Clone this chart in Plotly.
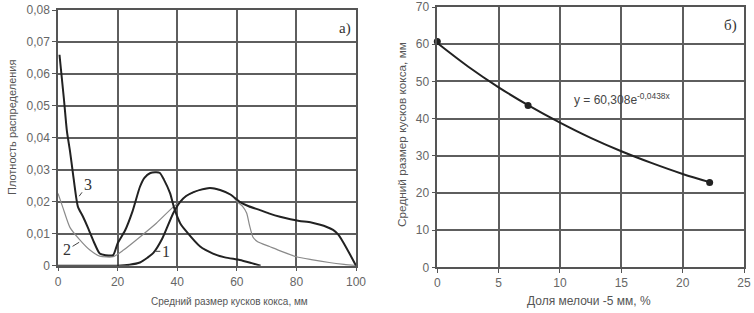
import plotly.graph_objects as go

# ---- Data: panel a) distribution density curves ----
c1_x = [0, 20, 24, 27.5, 30, 32, 35, 38.7, 41, 43, 45.5, 48, 51, 54.4, 58, 61, 64, 67.8, 71, 74.5, 78, 81, 85, 88, 90, 92.3, 94, 95.8, 98, 100]
c1_y = [0, 0, 0.0003, 0.001, 0.0025, 0.004, 0.0085, 0.0165, 0.02, 0.0218, 0.023, 0.0238, 0.0243, 0.0237, 0.0222, 0.02, 0.0186, 0.0174, 0.0163, 0.0153, 0.0145, 0.014, 0.0135, 0.0128, 0.0122, 0.0112, 0.0098, 0.0072, 0.0035, 0]

c2_x = [0, 1.7, 4, 7.4, 10.7, 14, 18.5, 22, 27.5, 33, 38.7, 41, 43, 45.5, 48, 51, 54.4, 58, 60.4, 62, 63.3, 64.3, 65.4, 67, 71, 75, 80, 85, 91, 96, 100]
c2_y = [0.0226, 0.018, 0.012, 0.008, 0.0049, 0.003, 0.0028, 0.0049, 0.009, 0.0133, 0.0184, 0.02, 0.0218, 0.023, 0.0238, 0.0243, 0.0237, 0.0222, 0.0198, 0.0185, 0.0165, 0.0125, 0.009, 0.0075, 0.006, 0.0045, 0.0028, 0.0019, 0.001, 0.0004, 0]

c3_x = [0.5, 2, 3, 4, 5, 6, 6.7, 8.4, 10, 12, 14, 16, 18.5, 20, 22.5, 25, 27.5, 29, 31, 33, 34.2, 35.5, 37.6, 39, 41, 43, 47.7, 52, 56, 61, 65, 68]
c3_y = [0.066, 0.052, 0.042, 0.036, 0.029, 0.022, 0.0184, 0.0153, 0.012, 0.0075, 0.0038, 0.0033, 0.0033, 0.007, 0.011, 0.017, 0.0247, 0.0275, 0.029, 0.0292, 0.029, 0.027, 0.0227, 0.018, 0.0133, 0.0108, 0.006, 0.0038, 0.0026, 0.0018, 0.0008, 0]

# curve number labels: the curve point the leader touches
curve_labels = ["1", "2", "3"]
curve_label_x = [32.5, 7.4, 6.9]
curve_label_y = [0.0045, 0.0075, 0.0215]

# ---- Data: panel б) mean lump size vs fines share ----
fines_pct = [0, 7.4, 22.2]
mean_size = [60.7, 43.5, 22.8]
trend_x = [0, 2.5, 5, 7.5, 10, 12.5, 15, 17.5, 20, 22.2]
trend_y = [60.3, 54.0, 48.4, 43.4, 38.9, 34.8, 31.2, 28.0, 25.1, 22.9]

a_xticks = [0, 20, 40, 60, 80, 100]
a_yticks = [0, 0.01, 0.02, 0.03, 0.04, 0.05, 0.06, 0.07, 0.08]
a_yticktext = ["0", "0,01", "0,02", "0,03", "0,04", "0,05", "0,06", "0,07", "0,08"]
b_xticks = [0, 5, 10, 15, 20, 25]
b_yticks = [0, 10, 20, 30, 40, 50, 60, 70]

W, H = 754, 313
DARK = "#222222"
LIGHT = "#8a8a8a"
GRID = "#5e5e5e"
TICKC = "#666666"
TITLEC = "#555555"
FONT = "Liberation Sans, Arial, sans-serif"
SERIF = "Liberation Serif, Times New Roman, serif"

fig = go.Figure()

fig.add_trace(go.Scatter(x=c2_x, y=c2_y, mode="lines", line=dict(color=LIGHT, width=1.2, shape="spline", smoothing=0.6),
                         xaxis="x", yaxis="y", showlegend=False, cliponaxis=False))
fig.add_trace(go.Scatter(x=c1_x, y=c1_y, mode="lines", line=dict(color=DARK, width=2, shape="spline", smoothing=0.6),
                         xaxis="x", yaxis="y", showlegend=False, cliponaxis=False))
fig.add_trace(go.Scatter(x=c3_x, y=c3_y, mode="lines", line=dict(color=DARK, width=2, shape="spline", smoothing=0.6),
                         xaxis="x", yaxis="y", showlegend=False, cliponaxis=False))

fig.add_trace(go.Scatter(x=trend_x, y=trend_y, mode="lines", line=dict(color=DARK, width=2, shape="spline"),
                         xaxis="x2", yaxis="y2", showlegend=False))
fig.add_trace(go.Scatter(x=fines_pct, y=mean_size, mode="markers", marker=dict(color=DARK, size=7),
                         xaxis="x2", yaxis="y2", showlegend=False, cliponaxis=False))

common_axis = dict(showline=True, linecolor="#555555", linewidth=1.5, mirror=True,
                   showgrid=True, gridcolor=GRID, gridwidth=1.6, zeroline=False,
                   ticks="outside", ticklen=4, tickcolor="#555555", automargin=False,
                   tickfont=dict(family=FONT, size=12, color=TICKC))

fig.update_layout(
    width=W, height=H,
    margin=dict(l=0, r=0, t=0, b=0),
    paper_bgcolor="white", plot_bgcolor="white",
    separators=", ",
    xaxis=dict(common_axis, domain=[58/W, 356/W], range=[0, 100], tickvals=a_xticks, anchor="y"),
    yaxis=dict(common_axis, domain=[1-265.7/H, 1-10/H], range=[0, 0.08], tickvals=a_yticks, ticktext=a_yticktext, anchor="x"),
    xaxis2=dict(common_axis, domain=[437.3/W, 744/W], range=[0, 25], tickvals=b_xticks, anchor="y2"),
    yaxis2=dict(common_axis, domain=[1-267.3/H, 1-7/H], range=[0, 70], tickvals=b_yticks, anchor="x2"),
)

# axis titles (placed as in the reference)
titles = [
    ("Средний размер кусков кокса, мм", 229/W, 1-301/H, 0, 10),
    ("Доля мелочи -5 мм, %", 589/W, 1-301/H, 0, 12),
    ("Плотность распределения", 12/W, 1-128/H, -90, 11),
    ("Средний размер кусков кокса, мм", 402/W, 1-135/H, -90, 11.8),
]
for txt, px, py, ang, sz in titles:
    fig.add_annotation(x=px, y=py, xref="paper", yref="paper", text=txt, showarrow=False, textangle=ang,
                       xanchor="center", yanchor="middle", font=dict(family=FONT, size=sz, color=TITLEC))

# curve number labels with short leader lines (text offset in px from the curve point)
lead = [(11, 0), (-13, 8), (9, -12)]
for t, lx, ly, (ax, ay) in zip(curve_labels, curve_label_x, curve_label_y, lead):
    fig.add_annotation(x=lx, y=ly, xref="x", yref="y", text=t, showarrow=True, ax=ax, ay=ay,
                       arrowhead=0, arrowwidth=1, arrowcolor="#444444", standoff=1,
                       font=dict(family=SERIF, size=16, color="#333333"))

fig.add_annotation(x=96.3, y=0.0742, xref="x", yref="y", text="а)", showarrow=False,
                   font=dict(family=SERIF, size=15, color="#333333"))
fig.add_annotation(x=23.9, y=65.1, xref="x2", yref="y2", text="б)", showarrow=False,
                   font=dict(family=SERIF, size=15, color="#333333"))
fig.add_annotation(x=11.0, y=45.3, xref="x2", yref="y2", xanchor="left",
                   text="y = 60,308e<sup>-0,0438x</sup>", showarrow=False,
                   font=dict(family=FONT, size=12, color="#444444"))

fig.write_html("out.html", config={"displayModeBar": False},
               post_script="document.body.style.margin='0';document.body.style.overflow='hidden';")
